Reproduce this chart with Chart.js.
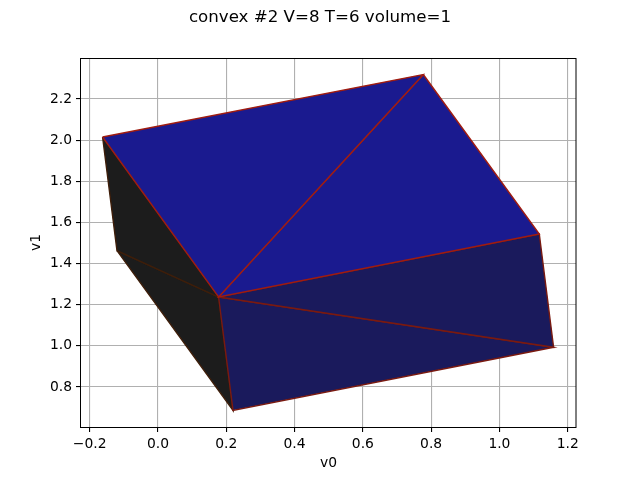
<!DOCTYPE html>
<html>
<head>
<meta charset="utf-8">
<style>
  html, body { margin: 0; background: #fff; }
  canvas { display: block; }
</style>
<script src="https://cdn.jsdelivr.net/npm/chart.js@4"></script>
</head>
<body>
<canvas id="hull" width="640" height="480"></canvas>
<script>
// hull vertices
const vertexX = [-0.1623, 0.7771, 1.1168, 1.1587, 0.2197, -0.1201, 0.1775];
const vertexY = [2.0154, 2.3192, 1.5438, 0.9929, 0.6866, 1.4625, 1.2374];
const triangles = [[0, 1, 6], [1, 2, 6], [6, 2, 3], [6, 3, 4], [0, 5, 6], [5, 4, 6]];
const faceColors = ['#1a1a8f', '#1a1a8f', '#1a1a5c', '#1a1a5c', '#1c1c1c', '#1c1c1c'];
const edgeColors = ['#a01c10', '#a01c10', '#7a1a10', '#7a1a10', '#3e1e0a', '#3e1e0a'];
const xTicks = [-0.2, 0, 0.2, 0.4, 0.6, 0.8, 1.0, 1.2];
const yTicks = [0.8, 1.0, 1.2, 1.4, 1.6, 1.8, 2.0, 2.2];

const FONT = 'DejaVu Sans';

function fixTicks(values) {
  return (scale) => {
    scale.ticks = values.map((value) => ({ value }));
  };
}

function tickLabel(value) {
  return value.toFixed(1).replace('-', '\u2212');
}

const frame = {
  id: 'frame',
  afterDraw(chart) {
    const { ctx, chartArea: a } = chart;
    ctx.save();
    ctx.strokeStyle = '#000';
    ctx.lineWidth = 1;
    ctx.strokeRect(a.left - 0.5, a.top + 0.5, a.right - a.left + 0.5, a.bottom - a.top);
    ctx.restore();
  },
};

// first dataset ends up on top, so the lit faces keep their edges
const datasets = triangles.map((tri, i) => ({
  data: [...tri, tri[0]].map((v) => ({ x: vertexX[v], y: vertexY[v] })),
  showLine: true,
  fill: 'shape',
  backgroundColor: faceColors[i],
  borderColor: edgeColors[i],
  borderWidth: 1.4,
  pointRadius: 0,
  tension: 0,
}));

new Chart(document.getElementById('hull'), {
  type: 'scatter',
  data: { datasets },
  options: {
    responsive: false,
    animation: false,
    layout: { padding: 0 },
    plugins: {
      legend: { display: false },
      tooltip: { enabled: false },
      title: {
        display: true,
        text: 'convex #2 V=8 T=6 volume=1',
        color: '#000',
        font: { family: FONT, size: 16.67, weight: 'normal', lineHeight: 1.2 },
        padding: { top: 8, bottom: 30 },
      },
    },
    scales: {
      x: {
        type: 'linear',
        min: -0.2255,
        max: 1.2243,
        afterBuildTicks: fixTicks(xTicks),
        afterFit: (scale) => { scale.height = 53; },
        border: { display: false },
        grid: { color: '#b0b0b0', lineWidth: 1.1, tickColor: '#000', tickLength: 5 },
        ticks: {
          color: '#000',
          padding: 4,
          maxRotation: 0,
          autoSkip: false,
          font: { family: FONT, size: 13.89 },
          callback: tickLabel,
        },
        title: {
          display: true,
          text: 'v0',
          color: '#000',
          font: { family: FONT, size: 13.89 },
          padding: { top: 0, bottom: 8 },
        },
      },
      y: {
        type: 'linear',
        min: 0.6055,
        max: 2.3993,
        afterBuildTicks: fixTicks(yTicks),
        afterFit: (scale) => { scale.width = 81; },
        border: { display: false },
        grid: { color: '#b0b0b0', lineWidth: 1.1, tickColor: '#000', tickLength: 5 },
        ticks: {
          color: '#000',
          padding: 4,
          autoSkip: false,
          font: { family: FONT, size: 13.89 },
          callback: tickLabel,
        },
        title: {
          display: true,
          text: 'v1',
          color: '#000',
          font: { family: FONT, size: 13.89 },
          padding: { top: 28, bottom: 0 },
        },
      },
      spacer: {
        type: 'linear',
        position: 'right',
        display: true,
        border: { display: false },
        grid: { display: false },
        ticks: { display: false },
        afterFit: (scale) => { scale.width = 64; },
      },
    },
  },
  plugins: [frame],
});
</script>
</body>
</html>
